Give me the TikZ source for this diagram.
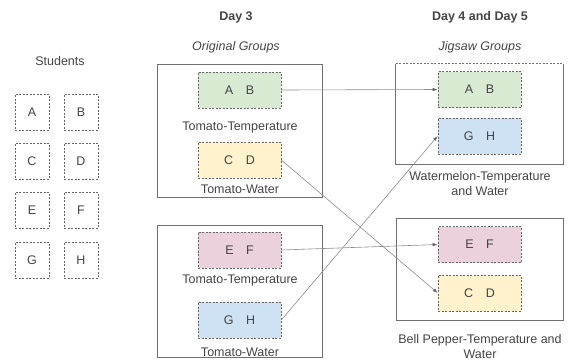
\documentclass[tikz,border=0pt]{standalone}
\usepackage{fontspec}
\setmainfont{Liberation Sans}
\usepackage{xcolor}
\usepackage{tikz}
\usetikzlibrary{arrows.meta}

\definecolor{txtgrey}{HTML}{444444}
\definecolor{boxgrey}{HTML}{666666}
\definecolor{linegrey}{HTML}{8C8C8C}
\definecolor{gGreen}{HTML}{D9EAD3}
\definecolor{gYellow}{HTML}{FFF2CC}
\definecolor{gPink}{HTML}{EAD1DC}
\definecolor{gBlue}{HTML}{CFE2F3}

\begin{document}
\begin{tikzpicture}[x=1pt,y=-1pt,font=\fontsize{12.5}{15}\selectfont,text=txtgrey,
  stu/.style={draw=boxgrey,dash pattern=on 2pt off 1.5pt,line width=0.6pt,minimum width=34pt,minimum height=36pt,inner sep=0pt},
  grp/.style={draw=boxgrey,fill=#1,dash pattern=on 2pt off 1.5pt,line width=0.6pt,minimum width=83pt,minimum height=36pt,inner sep=0pt},
  frm/.style n args={2}{draw=linegrey!80!black,line width=0.6pt,minimum width=#1pt,minimum height=#2pt,inner sep=0pt},
  lbl/.style={align=center,inner sep=0pt},
  conn/.style={draw=linegrey,line width=0.6pt,-{Latex[length=5pt,width=3.5pt,color=boxgrey]}}]
\useasboundingbox (0,0) rectangle (572,360);

% titles
\node[lbl,font=\fontsize{12.5}{15}\selectfont\bfseries] (day3) at (236,17) {Day 3};
\node[lbl,font=\fontsize{12.5}{15}\selectfont\itshape] (orig) at (236,47) {Original Groups};
\node[lbl,font=\fontsize{12.5}{15}\selectfont\bfseries] (day45) at (480,17) {Day 4 and Day 5};
\node[lbl,font=\fontsize{12.5}{15}\selectfont\itshape] (jig) at (480,47) {Jigsaw Groups};
\node[lbl] (students) at (60,61) {Students};

% students
\foreach \n/\x/\y in %
{A/32/112,B/81/112,C/32/161,D/81/161,E/32/210,F/81/210,G/32/260,H/81/260} {
   \node[stu] (s\n) at (\x,\y) {\n};
}

% frames
\node[frm={165}{133}] (of1) at (239.5,130.5) {};
\node[frm={165}{132}] (of2) at (239.5,291) {};
\node[frm={167}{100},draw=none] (jf1) at (479.5,114) {};
\draw[draw=linegrey!80!black,line width=0.6pt] (jf1.north west) -- (jf1.south west) -- (jf1.south east) -- (jf1.north east);
\draw[draw=linegrey!80!black,line width=0.6pt,dash pattern=on 2pt off 1.5pt] (jf1.north west) -- (jf1.north east);
\node[frm={167}{102}] (jf2) at (479.5,269) {};

% original groups
\node[grp=gGreen] (oAB) at (239.5,90) {A\quad B};
\node[lbl] (oAB-l) at (240,127) {Tomato-Temperature};
\node[grp=gYellow] (oCD) at (239.5,160) {C\quad D};
\node[lbl] (oCD-l) at (240,189) {Tomato-Water};
\node[grp=gPink] (oEF) at (239.5,250) {E\quad F};
\node[lbl] (oEF-l) at (240,280) {Tomato-Temperature};
\node[grp=gBlue] (oGH) at (239.5,320) {G\quad H};
\node[lbl] (oGH-l) at (240,352) {Tomato-Water};

% jigsaw groups
\node[grp=gGreen] (jAB) at (479.5,89.5) {A\quad B};
\node[grp=gBlue] (jGH) at (479.5,136) {G\quad H};
\node[lbl] (jf1-l) at (480,183.5) {Watermelon-Temperature\\and Water};
\node[grp=gPink] (jEF) at (479.5,244.5) {E\quad F};
\node[grp=gYellow] (jCD) at (479.5,293) {C\quad D};
\node[lbl] (jf2-l) at (480,346.5) {Bell Pepper-Temperature and\\Water};

% connectors
\draw[conn] (oAB.east) -- (jAB.west);
\draw[conn] (oCD.east) -- (jCD.west);
\draw[conn] (oEF.east) -- (jEF.west);
\draw[conn] (oGH.east) -- (jGH.west);
\end{tikzpicture}
\end{document}
